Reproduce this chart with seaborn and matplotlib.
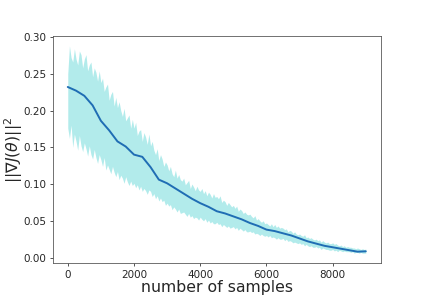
import numpy as np
import pandas as pd
import matplotlib
matplotlib.use("Agg")
import matplotlib.pyplot as plt
import seaborn as sns

# mean curve, read every 250 samples
mean_x = list(range(0, 9001, 250))
mean_y = [0.232, 0.227, 0.220, 0.207, 0.186, 0.173, 0.158, 0.151, 0.140, 0.137,
          0.123, 0.106, 0.101, 0.094, 0.087, 0.080, 0.074, 0.069, 0.063, 0.060,
          0.056, 0.052, 0.047, 0.043, 0.038, 0.036, 0.033, 0.030, 0.026, 0.022,
          0.019, 0.016, 0.014, 0.012, 0.010, 0.008, 0.0085]

# spread band, read every 50 samples
band_x = list(range(0, 9001, 50))
band_hi = [
    0.250, 0.288, 0.272, 0.266, 0.284, 0.270, 0.262, 0.281, 0.276, 0.258,
    0.270, 0.276, 0.254, 0.262, 0.266, 0.246, 0.258, 0.252, 0.240, 0.254,
    0.238, 0.244, 0.226, 0.232, 0.236, 0.214, 0.222, 0.226, 0.206, 0.218,
    0.204, 0.212, 0.200, 0.192, 0.203, 0.186, 0.190, 0.194, 0.176, 0.188,
    0.176, 0.184, 0.166, 0.172, 0.174, 0.158, 0.170, 0.164, 0.154, 0.168,
    0.152, 0.158, 0.146, 0.140, 0.148, 0.132, 0.140, 0.134, 0.124, 0.130,
    0.126, 0.118, 0.124, 0.114, 0.110, 0.119, 0.108, 0.113, 0.106, 0.104,
    0.108, 0.099, 0.102, 0.105, 0.094, 0.100, 0.096, 0.091, 0.097, 0.092,
    0.090, 0.094, 0.087, 0.091, 0.084, 0.089, 0.086, 0.081, 0.087, 0.082,
    0.083, 0.080, 0.084, 0.075, 0.078, 0.076, 0.071, 0.075, 0.072, 0.069,
    0.071, 0.067, 0.070, 0.063, 0.066, 0.064, 0.060, 0.062, 0.059, 0.058,
    0.059, 0.056, 0.054, 0.057, 0.051, 0.053, 0.050, 0.048, 0.050, 0.046,
    0.047, 0.045, 0.043, 0.046, 0.042, 0.045, 0.041, 0.043, 0.040, 0.041,
    0.040, 0.038, 0.039, 0.035, 0.037, 0.036, 0.033, 0.035, 0.032, 0.031,
    0.032, 0.030, 0.029, 0.031, 0.027, 0.028, 0.026, 0.027, 0.025, 0.024,
    0.025, 0.023, 0.024, 0.021, 0.023, 0.021, 0.020, 0.021, 0.019, 0.019,
    0.020, 0.018, 0.019, 0.017, 0.016, 0.017, 0.015, 0.016, 0.014, 0.015,
    0.014, 0.014, 0.013, 0.013, 0.012, 0.013, 0.012, 0.011, 0.012, 0.011,
    0.0115]
band_lo = [
    0.176, 0.162, 0.180, 0.150, 0.168, 0.158, 0.146, 0.166, 0.152, 0.144,
    0.156, 0.148, 0.138, 0.152, 0.140, 0.134, 0.147, 0.136, 0.128, 0.140,
    0.133, 0.124, 0.136, 0.119, 0.126, 0.120, 0.114, 0.124, 0.116, 0.110,
    0.117, 0.106, 0.112, 0.108, 0.101, 0.110, 0.103, 0.098, 0.104, 0.098,
    0.101, 0.095, 0.099, 0.092, 0.097, 0.090, 0.094, 0.091, 0.086, 0.092,
    0.090, 0.083, 0.087, 0.080, 0.084, 0.077, 0.081, 0.076, 0.078, 0.071,
    0.074, 0.070, 0.072, 0.065, 0.069, 0.066, 0.062, 0.066, 0.060, 0.061,
    0.062, 0.059, 0.056, 0.060, 0.055, 0.057, 0.053, 0.055, 0.054, 0.051,
    0.055, 0.052, 0.050, 0.053, 0.048, 0.051, 0.047, 0.049, 0.046, 0.046,
    0.048, 0.045, 0.046, 0.042, 0.045, 0.043, 0.041, 0.043, 0.040, 0.041,
    0.042, 0.039, 0.041, 0.037, 0.040, 0.038, 0.036, 0.038, 0.035, 0.035,
    0.036, 0.034, 0.035, 0.032, 0.033, 0.032, 0.030, 0.032, 0.030, 0.029,
    0.030, 0.028, 0.030, 0.027, 0.028, 0.027, 0.025, 0.027, 0.025, 0.025,
    0.026, 0.023, 0.025, 0.022, 0.023, 0.022, 0.020, 0.021, 0.020, 0.019,
    0.020, 0.018, 0.019, 0.016, 0.018, 0.016, 0.015, 0.016, 0.014, 0.014,
    0.015, 0.013, 0.014, 0.011, 0.013, 0.012, 0.011, 0.011, 0.010, 0.010,
    0.011, 0.009, 0.010, 0.008, 0.010, 0.009, 0.008, 0.009, 0.008, 0.008,
    0.008, 0.007, 0.008, 0.006, 0.007, 0.007, 0.006, 0.007, 0.006, 0.006,
    0.006]

sns.set_style("ticks")

df = pd.DataFrame({"samples": mean_x, "grad": mean_y})

fig, ax = plt.subplots(figsize=(4.23, 2.96), dpi=100)

# shaded spread
ax.fill_between(band_x, band_lo, band_hi, color="c", alpha=0.3, linewidth=0)

# mean curve
sns.lineplot(data=df, x="samples", y="grad", ax=ax, color="#1f6db4", linewidth=1.4)

ax.set_xlim(-450, 9450)
ax.set_ylim(-0.008, 0.302)
ax.set_yticks([0.00, 0.05, 0.10, 0.15, 0.20, 0.25, 0.30])
ax.tick_params(labelsize=7.5, length=2.3, width=0.55, pad=2.3)
ax.set_xlabel("number of samples", fontsize=11.3)
ax.set_ylabel(r"$||\nabla J(\theta)||^2$", fontsize=11.3)
ax.xaxis.set_label_coords(0.5, -0.072)
ax.yaxis.set_label_coords(-0.085, 0.5)

for s in ax.spines.values():
    s.set_color("0.35")
    s.set_linewidth(0.6)

plt.savefig("out.png", dpi=100)
